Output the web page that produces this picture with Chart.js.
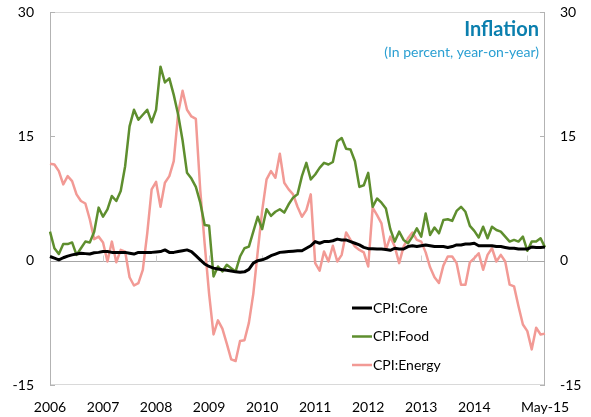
<!DOCTYPE html>
<html>
<head>
<meta charset="utf-8">
<script src="https://cdn.jsdelivr.net/npm/chart.js@4"></script>
<style>
  html, body { margin: 0; padding: 0; background: #fff; }
  #wrap { width: 591px; height: 417px; position: relative; }
</style>
</head>
<body>
<div id="wrap"><canvas id="myChart"></canvas></div>
<script>
// monthly, Jan 2006 .. May 2015
var months = [];
for (var y = 2006; y <= 2015; y++) {
    for (var m = 1; m <= 12; m++) {
        if (y === 2015 && m > 5) break;
        months.push(y + '-' + (m < 10 ? '0' + m : m));
    }
}

var yTicks = [-15, 0, 15, 30];

var cpiCore = [
    0.5, 0.3, 0.1, 0.35, 0.55, 0.7, 0.8, 0.9, 0.85, 0.8, 0.95, 1.0,
    1.1, 1.1, 1.0, 1.0, 1.0, 1.0, 0.9, 0.8, 1.0, 1.0, 1.0, 1.0,
    1.05, 1.1, 1.3, 1.0, 1.0, 1.1, 1.2, 1.3, 1.1, 0.6, 0.1, -0.4,
    -0.7, -0.9, -1.0, -1.1, -1.15, -1.25, -1.35, -1.4, -1.35, -1.05, -0.3, 0.0,
    0.1, 0.3, 0.6, 0.8, 1.0, 1.05, 1.1, 1.15, 1.2, 1.2, 1.5, 1.8,
    2.3, 2.1, 2.3, 2.3, 2.4, 2.6, 2.5, 2.5, 2.3, 2.1, 1.9, 1.6,
    1.45, 1.45, 1.4, 1.4, 1.35, 1.25, 1.5, 1.4, 1.4, 1.7, 1.8, 1.7,
    1.8, 1.9, 1.8, 1.7, 1.7, 1.7, 1.6, 1.7, 1.9, 1.9, 2.0, 2.0,
    2.1, 1.8, 1.8, 1.8, 1.8, 1.7, 1.7, 1.6, 1.5, 1.5, 1.4, 1.4,
    1.4, 1.65, 1.6, 1.6, 1.65
];

var cpiFood = [
    3.5, 1.5, 0.8, 2.0, 2.0, 2.2, 0.7, 1.5, 2.3, 2.2, 3.5, 6.4,
    5.3, 6.2, 7.8, 7.2, 8.4, 11.4, 16.2, 18.2, 17.0, 17.6, 18.2, 16.7,
    18.2, 23.4, 21.5, 22.0, 20.0, 17.6, 14.5, 10.6, 9.9, 8.9, 7.0, 4.3,
    4.2, -1.9, -0.7, -1.3, -0.5, -0.9, -1.3, 0.5, 1.5, 1.7, 3.5, 5.3,
    3.8, 6.2, 5.4, 5.9, 6.2, 5.8, 6.8, 7.6, 8.0, 10.2, 11.8, 9.8,
    10.4, 11.2, 11.8, 11.6, 11.9, 14.4, 14.8, 13.5, 13.4, 12.0, 8.9, 9.1,
    10.6, 6.5, 7.5, 7.0, 6.3, 3.8, 2.3, 3.5, 2.5, 2.1, 2.9, 3.9,
    2.9, 5.7, 3.1, 4.0, 3.3, 4.9, 5.0, 4.8, 6.0, 6.5, 5.9, 4.2,
    3.6, 2.8, 4.1, 2.7, 4.1, 3.7, 3.5, 2.9, 2.3, 2.5, 2.3, 2.9,
    1.2, 2.3, 2.3, 2.7, 1.6
];

var cpiEnergy = [
    11.7, 11.6, 10.8, 9.2, 10.2, 9.6, 8.0, 7.2, 6.9, 5.0, 2.6, 2.9,
    2.2, -0.1, 2.3, -0.2, 1.3, 1.1, -2.0, -3.0, -2.7, -1.1, 3.3, 8.6,
    9.5, 6.5, 9.4, 10.2, 12.0, 17.8, 20.5, 18.2, 17.4, 17.1, 8.5, 2.0,
    -4.0, -8.9, -7.2, -8.2, -10.0, -11.9, -12.1, -9.7, -9.6, -7.5, -4.0, 1.1,
    6.0, 9.8, 10.8, 10.0, 12.9, 9.4, 8.6, 8.0, 6.5, 5.3, 6.1, 8.0,
    -0.3, -1.2, 1.1, -0.1, 1.8, -0.1, 0.7, 3.4, 2.5, 1.7, 1.3, 1.0,
    -0.7, 6.4, 5.5, 4.5, 1.3, 2.9, 1.7, -0.3, 1.7, 2.7, 3.4, 2.5,
    2.3, 1.0, -0.8, -2.0, -2.7, -0.6, 0.5, 0.5, -0.3, -2.9, -2.9, -0.2,
    0.3, 0.9, -1.1, 0.7, 1.5, -0.1, 0.7, -0.1, -2.9, -3.1, -5.5, -7.7,
    -8.5, -10.7, -8.1, -8.9, -8.8
];

var seriesNames = ['CPI:Core', 'CPI:Food', 'CPI:Energy'];
var seriesColors = ['#000000', '#5e8e2e', '#f29a95'];

function xLabel(i) {
    if (i === months.length - 1) return 'May-15';
    var parts = months[i].split('-');
    if (parts[1] === '01' && parts[0] !== '2015') return parts[0];
    return null;
}

function fitY(w) {
    return function(s) {
        s.width = w;
        s.paddingTop = 12;
        s.paddingBottom = 0;
    };
}

// frame, zero line and small tick marks
var framePlugin = {
    id: 'frame',
    beforeDatasetsDraw: function(chart) {
        var ctx = chart.ctx, a = chart.chartArea, sx = chart.scales.x, sy = chart.scales.y;
        var y0 = Math.round(sy.getPixelForValue(0)) + 0.5;
        ctx.save();
        ctx.lineWidth = 1;
        ctx.strokeStyle = '#d9d9d9';
        ctx.beginPath();
        ctx.moveTo(a.left, a.top + 0.5); ctx.lineTo(a.right, a.top + 0.5);
        ctx.moveTo(a.left, a.bottom - 0.5); ctx.lineTo(a.right, a.bottom - 0.5);
        ctx.stroke();
        ctx.strokeStyle = '#b3b3b3';
        ctx.beginPath();
        ctx.moveTo(a.left + 0.5, a.top); ctx.lineTo(a.left + 0.5, a.bottom);
        ctx.moveTo(a.right - 0.5, a.top); ctx.lineTo(a.right - 0.5, a.bottom);
        yTicks.forEach(function(v) {
            var py = Math.round(sy.getPixelForValue(v)) + 0.5;
            ctx.moveTo(a.left, py); ctx.lineTo(a.left + 5, py);
            ctx.moveTo(a.right, py); ctx.lineTo(a.right - 5, py);
        });
        ctx.stroke();
        ctx.strokeStyle = '#a6a6a6';
        ctx.beginPath();
        ctx.moveTo(a.left, y0); ctx.lineTo(a.right, y0);
        ctx.stroke();
        ctx.strokeStyle = '#d0d0d0';
        ctx.beginPath();
        months.forEach(function(mo, i) {
            if (i > 0 && mo.slice(5) === '01') {
                var px = Math.round(sx.getPixelForValue(i)) + 0.5;
                ctx.moveTo(px, y0); ctx.lineTo(px, y0 - 6);
            }
        });
        ctx.stroke();
        ctx.restore();
    },
    afterDraw: function(chart) {
        var ctx = chart.ctx, a = chart.chartArea;
        ctx.save();
        // title
        ctx.textAlign = 'right';
        ctx.textBaseline = 'middle';
        ctx.fillStyle = '#0b7fae';
        ctx.font = 'bold 20px Lato';
        ctx.fillText('Inflation', a.right - 6, 30);
        ctx.fillStyle = '#2a9fd2';
        ctx.font = '14px Lato';
        ctx.fillText('(In percent, year-on-year)', a.right - 6, 52);
        // legend
        ctx.textAlign = 'left';
        ctx.font = '14px Lato';
        chart.data.datasets.forEach(function(ds, i) {
            var ly = 308 + i * 28.5;
            ctx.strokeStyle = ds.borderColor;
            ctx.lineWidth = ds.borderWidth;
            ctx.beginPath();
            ctx.moveTo(352, ly); ctx.lineTo(372, ly);
            ctx.stroke();
            ctx.fillStyle = '#000';
            ctx.fillText(ds.label, 373, ly);
        });
        ctx.restore();
    }
};

document.addEventListener('DOMContentLoaded', function() {
    var ctx = document.getElementById('myChart').getContext('2d');
    var myChart = new Chart(ctx, {
        type: 'line',
        data: {
            labels: months,
            datasets: [{
                label: seriesNames[0],
                data: cpiCore,
                borderColor: seriesColors[0],
                borderWidth: 3
            }, {
                label: seriesNames[1],
                data: cpiFood,
                borderColor: seriesColors[1],
                borderWidth: 2.5
            }, {
                label: seriesNames[2],
                data: cpiEnergy,
                borderColor: seriesColors[2],
                borderWidth: 2.5
            }]
        },
        options: {
            responsive: true,
            maintainAspectRatio: false,
            devicePixelRatio: 1,
            animation: false,
            elements: {
                point: { radius: 0 },
                line: { tension: 0, borderJoinStyle: 'round' }
            },
            layout: { padding: 0 },
            plugins: {
                legend: { display: false },
                tooltip: { enabled: false }
            },
            scales: {
                x: {
                    type: 'category',
                    offset: false,
                    grid: { display: false, drawTicks: false },
                    border: { display: false },
                    afterFit: function(s) { s.height = 32; s.paddingLeft = 0; s.paddingRight = 0; },
                    ticks: {
                        autoSkip: false,
                        maxRotation: 0,
                        padding: 14,
                        color: '#000',
                        font: { family: 'Lato', size: 14 },
                        callback: function(v, i) { return xLabel(i); }
                    }
                },
                y: {
                    position: 'left',
                    min: -15,
                    max: 30,
                    afterBuildTicks: function(s) { s.ticks = yTicks.map(function(v) { return { value: v }; }); },
                    afterFit: fitY(50),
                    grid: { display: false, drawTicks: false },
                    border: { display: false },
                    ticks: { padding: 16, color: '#000', font: { family: 'Lato', size: 14 } }
                },
                y2: {
                    position: 'right',
                    min: -15,
                    max: 30,
                    afterBuildTicks: function(s) { s.ticks = yTicks.map(function(v) { return { value: v }; }); },
                    afterFit: fitY(46),
                    grid: { display: false, drawTicks: false },
                    border: { display: false },
                    ticks: { padding: 15, color: '#000', font: { family: 'Lato', size: 14 } }
                }
            }
        },
        plugins: [framePlugin]
    });
});
</script>
</body>
</html>
